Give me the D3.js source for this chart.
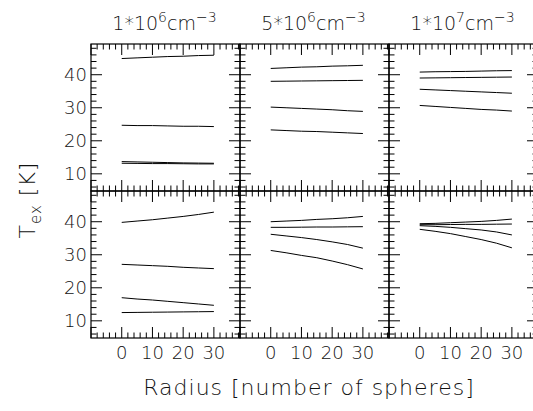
<!DOCTYPE html>
<html>
<head>
<meta charset="utf-8">
<script src="https://cdn.jsdelivr.net/npm/d3@7"></script>
<style>
  body { margin: 0; background: #fff; }
  text { font-family: "DejaVu Sans", sans-serif; font-weight: 200; fill: #111; }
</style>
</head>
<body>
<svg width="533" height="411"></svg>
<script>
// radius in number of spheres (x values of every curve)
var radius = [0, 5, 10, 15, 20, 25, 30];

// column titles (density), mantissa + exponent
var titles = [["1*10", "6"], ["5*10", "6"], ["1*10", "7"]];

// T_ex curves, top row
var top1 = [
  [44.9, 45.1, 45.3, 45.5, 45.6, 45.8, 45.9],
  [24.7, 24.6, 24.6, 24.5, 24.4, 24.4, 24.3],
  [13.7, 13.6, 13.5, 13.4, 13.3, 13.25, 13.2],
  [13.2, 13.15, 13.1, 13.1, 13.05, 13.0, 13.0]
];
var top2 = [
  [41.9, 42.1, 42.3, 42.4, 42.6, 42.7, 42.85],
  [38.0, 38.05, 38.1, 38.15, 38.2, 38.25, 38.3],
  [30.2, 30.0, 29.8, 29.6, 29.4, 29.1, 28.9],
  [23.3, 23.1, 22.9, 22.8, 22.6, 22.4, 22.2]
];
var top3 = [
  [40.8, 40.9, 40.95, 41.0, 41.1, 41.2, 41.25],
  [39.0, 39.05, 39.1, 39.15, 39.2, 39.25, 39.3],
  [35.6, 35.4, 35.2, 35.0, 34.8, 34.6, 34.4],
  [30.7, 30.4, 30.1, 29.8, 29.5, 29.3, 29.0]
];

// T_ex curves, bottom row
var bot1 = [
  [39.8, 40.2, 40.6, 41.1, 41.6, 42.2, 42.9],
  [27.1, 26.9, 26.7, 26.5, 26.2, 26.0, 25.8],
  [17.0, 16.6, 16.3, 15.9, 15.5, 15.1, 14.7],
  [12.5, 12.55, 12.6, 12.65, 12.7, 12.75, 12.8]
];
var bot2 = [
  [40.0, 40.2, 40.4, 40.7, 40.9, 41.2, 41.6],
  [38.3, 38.3, 38.35, 38.4, 38.4, 38.45, 38.5],
  [36.2, 35.7, 35.2, 34.6, 33.9, 33.1, 32.0],
  [31.3, 30.6, 29.8, 29.1, 28.1, 27.0, 25.7]
];
var bot3 = [
  [39.4, 39.5, 39.7, 39.9, 40.1, 40.4, 40.8],
  [39.1, 39.1, 39.15, 39.2, 39.2, 39.25, 39.3],
  [38.8, 38.6, 38.3, 37.9, 37.5, 36.9, 36.0],
  [37.7, 37.1, 36.4, 35.5, 34.6, 33.5, 32.1]
];

var panels = [[top1, top2, top3], [bot1, bot2, bot3]];

var xTickLabels = [0, 10, 20, 30];
var yTickLabels = [10, 20, 30, 40];

var svg = d3.select("svg");

// plot area origin and panel size
var padL = 91, padT = 44, pw = 149, ph = 147;

var line = d3.line();

panels.forEach(function(row, r) {
  row.forEach(function(curves, c) {
    var x0 = padL + c * pw, y0 = padT + r * ph;
    var x = d3.scaleLinear().domain([-10, 38.5]).range([x0, x0 + pw]);
    var y = d3.scaleLinear().domain([4.8, 49.3]).range([y0 + ph, y0]);
    var g = svg.append("g");

    // curves
    curves.forEach(function(vals) {
      line.x(function(d, i) { return x(radius[i]); })
          .y(function(d) { return y(d); });
      g.append("path")
        .attr("d", line(vals))
        .attr("fill", "none")
        .attr("stroke", "#000")
        .attr("stroke-width", 1);
    });

    // frame
    g.append("rect")
      .attr("x", x0).attr("y", y0).attr("width", pw).attr("height", ph)
      .attr("fill", "none").attr("stroke", "#000").attr("stroke-width", 1.2);

    // x ticks, inward on top and bottom
    d3.range(-10, 39, 2).forEach(function(v) {
      var len = v % 10 === 0 ? 11 : 5.5;
      var px = x(v);
      g.append("line").attr("x1", px).attr("x2", px)
        .attr("y1", y0).attr("y2", y0 + len)
        .attr("stroke", "#000").attr("stroke-width", 1);
      g.append("line").attr("x1", px).attr("x2", px)
        .attr("y1", y0 + ph).attr("y2", y0 + ph - len)
        .attr("stroke", "#000").attr("stroke-width", 1);
    });

    // y ticks, inward on left and right
    d3.range(6, 50, 2).forEach(function(v) {
      var len = v % 10 === 0 ? 11 : 5.5;
      var py = y(v);
      g.append("line").attr("x1", x0).attr("x2", x0 + len)
        .attr("y1", py).attr("y2", py)
        .attr("stroke", "#000").attr("stroke-width", 1);
      g.append("line").attr("x1", x0 + pw).attr("x2", x0 + pw - len)
        .attr("y1", py).attr("y2", py)
        .attr("stroke", "#000").attr("stroke-width", 1);
    });

    // y labels only on first column
    if (c === 0) {
      yTickLabels.forEach(function(v) {
        g.append("text")
          .attr("x", x0 - 4).attr("y", y(v))
          .attr("dy", "0.36em")
          .attr("text-anchor", "end")
          .attr("font-size", 18)
          .text(v);
      });
    }

    // x labels only on bottom row
    if (r === 1) {
      xTickLabels.forEach(function(v) {
        g.append("text")
          .attr("x", x(v)).attr("y", y0 + ph + 21)
          .attr("text-anchor", "middle")
          .attr("font-size", 18)
          .text(v);
      });
    }

    // column titles
    if (r === 0) {
      var t = g.append("text")
        .attr("x", x0 + pw / 2 - 1).attr("y", 30)
        .attr("text-anchor", "middle")
        .attr("font-size", 19);
      t.append("tspan").text(titles[c][0]);
      t.append("tspan").attr("dy", -8).attr("font-size", 14).text(titles[c][1]);
      t.append("tspan").attr("dy", 8).text("cm");
      t.append("tspan").attr("dy", -8).attr("font-size", 14).text("\u22123");
    }
  });
});

// axis titles
svg.append("text")
  .attr("x", 309).attr("y", 395)
  .attr("text-anchor", "middle")
  .attr("font-size", 22)
  .attr("letter-spacing", 1)
  .text("Radius [number of spheres]");

var yl = svg.append("text")
  .attr("transform", "translate(35,200) rotate(-90)")
  .attr("text-anchor", "middle")
  .attr("font-size", 22)
  .attr("letter-spacing", 1);
yl.append("tspan").text("T");
yl.append("tspan").attr("dy", 6).attr("font-size", 15).text("ex");
yl.append("tspan").attr("dy", -6).text(" [K]");
</script>
</body>
</html>
